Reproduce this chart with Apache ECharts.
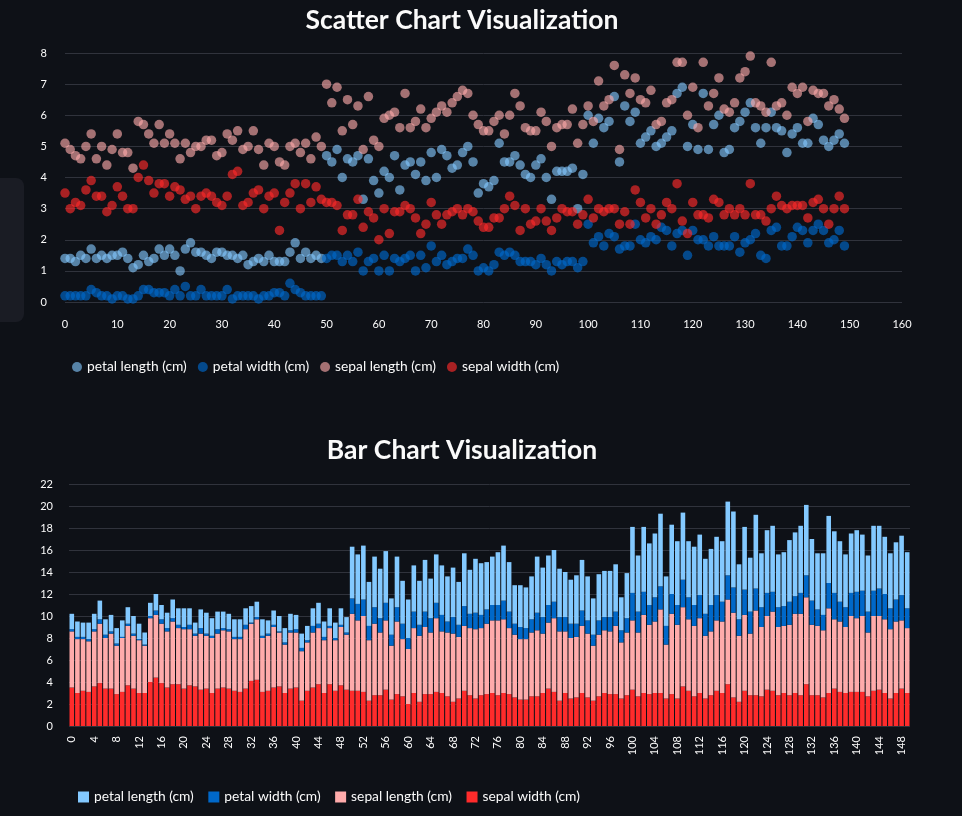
<!DOCTYPE html>
<html>
<head>
<meta charset="utf-8">
<script src="https://cdn.jsdelivr.net/npm/echarts@6/dist/echarts.min.js"></script>
<style>
html,body{margin:0;padding:0;background:#0e1117;}
#chart{width:962px;height:816px;}
#side{position:absolute;left:-10px;top:178px;width:34px;height:144px;background:#1a1c24;border-radius:8px;}
</style>
</head>
<body>
<div id="chart"></div>
<div id="side"></div>
<script>
const seriesNames = ['petal length (cm)','petal width (cm)','sepal length (cm)','sepal width (cm)'];
const sepalLength = [5.1,4.9,4.7,4.6,5.0,5.4,4.6,5.0,4.4,4.9,5.4,4.8,4.8,4.3,5.8,5.7,5.4,5.1,5.7,5.1,5.4,5.1,4.6,5.1,4.8,5.0,5.0,5.2,5.2,4.7,4.8,5.4,5.2,5.5,4.9,5.0,5.5,4.9,4.4,5.1,5.0,4.5,4.4,5.0,5.1,4.8,5.1,4.6,5.3,5.0,
7.0,6.4,6.9,5.5,6.5,5.7,6.3,4.9,6.6,5.2,5.0,5.9,6.0,6.1,5.6,6.7,5.6,5.8,6.2,5.6,5.9,6.1,6.3,6.1,6.4,6.6,6.8,6.7,6.0,5.7,5.5,5.5,5.8,6.0,5.4,6.0,6.7,6.3,5.6,5.5,5.5,6.1,5.8,5.0,5.6,5.7,5.7,6.2,5.1,5.7,
6.3,5.8,7.1,6.3,6.5,7.6,4.9,7.3,6.7,7.2,6.5,6.4,6.8,5.7,5.8,6.4,6.5,7.7,7.7,6.0,6.9,5.6,7.7,6.3,6.7,7.2,6.2,6.1,6.4,7.2,7.4,7.9,6.4,6.3,6.1,7.7,6.3,6.4,6.0,6.9,6.7,6.9,5.8,6.8,6.7,6.7,6.3,6.5,6.2,5.9];
const sepalWidth = [3.5,3.0,3.2,3.1,3.6,3.9,3.4,3.4,2.9,3.1,3.7,3.4,3.0,3.0,4.0,4.4,3.9,3.5,3.8,3.8,3.4,3.7,3.6,3.3,3.4,3.0,3.4,3.5,3.4,3.2,3.1,3.4,4.1,4.2,3.1,3.2,3.5,3.6,3.0,3.4,3.5,2.3,3.2,3.5,3.8,3.0,3.8,3.2,3.7,3.3,
3.2,3.2,3.1,2.3,2.8,2.8,3.3,2.4,2.9,2.7,2.0,3.0,2.2,2.9,2.9,3.1,3.0,2.7,2.2,2.5,3.2,2.8,2.5,2.8,2.9,3.0,2.8,3.0,2.9,2.6,2.4,2.4,2.7,2.7,3.0,3.4,3.1,2.3,3.0,2.5,2.6,3.0,2.6,2.3,2.7,3.0,2.9,2.9,2.5,2.8,
3.3,2.7,3.0,2.9,3.0,3.0,2.5,2.9,2.5,3.6,3.2,2.7,3.0,2.5,2.8,3.2,3.0,3.8,2.6,2.2,3.2,2.8,2.8,2.7,3.3,3.2,2.8,3.0,2.8,3.0,2.8,3.8,2.8,2.8,2.6,3.0,3.4,3.1,3.0,3.1,3.1,3.1,2.7,3.2,3.3,3.0,2.5,3.0,3.4,3.0];
const petalLength = [1.4,1.4,1.3,1.5,1.4,1.7,1.4,1.5,1.4,1.5,1.5,1.6,1.4,1.1,1.2,1.5,1.3,1.4,1.7,1.5,1.7,1.5,1.0,1.7,1.9,1.6,1.6,1.5,1.4,1.6,1.6,1.5,1.5,1.4,1.5,1.2,1.3,1.4,1.3,1.5,1.3,1.3,1.3,1.6,1.9,1.4,1.6,1.4,1.5,1.4,
4.7,4.5,4.9,4.0,4.6,4.5,4.7,3.3,4.6,3.9,3.5,4.2,4.0,4.7,3.6,4.4,4.5,4.1,4.5,3.9,4.8,4.0,4.9,4.7,4.3,4.4,4.8,5.0,4.5,3.5,3.8,3.7,3.9,5.1,4.5,4.5,4.7,4.4,4.1,4.0,4.4,4.6,4.0,3.3,4.2,4.2,4.2,4.3,3.0,4.1,
6.0,5.1,5.9,5.6,5.8,6.6,4.5,6.3,5.8,6.1,5.1,5.3,5.5,5.0,5.1,5.3,5.5,6.7,6.9,5.0,5.7,4.9,6.7,4.9,5.7,6.0,4.8,4.9,5.6,5.8,6.1,6.4,5.6,5.1,5.6,6.1,5.6,5.5,4.8,5.4,5.6,5.1,5.1,5.9,5.7,5.2,5.0,5.2,5.4,5.1];
const petalWidth = [0.2,0.2,0.2,0.2,0.2,0.4,0.3,0.2,0.2,0.1,0.2,0.2,0.1,0.1,0.2,0.4,0.4,0.3,0.3,0.3,0.2,0.4,0.2,0.5,0.2,0.2,0.4,0.2,0.2,0.2,0.2,0.4,0.1,0.2,0.2,0.2,0.2,0.1,0.2,0.2,0.3,0.3,0.2,0.6,0.4,0.3,0.2,0.2,0.2,0.2,
1.4,1.5,1.5,1.3,1.5,1.3,1.6,1.0,1.3,1.4,1.0,1.5,1.0,1.4,1.3,1.4,1.5,1.0,1.5,1.1,1.8,1.3,1.5,1.2,1.3,1.4,1.4,1.7,1.5,1.0,1.1,1.0,1.2,1.6,1.5,1.6,1.5,1.3,1.3,1.3,1.2,1.4,1.2,1.0,1.3,1.2,1.3,1.3,1.1,1.3,
2.5,1.9,2.1,1.8,2.2,2.1,1.7,1.8,1.8,2.5,2.0,1.9,2.1,2.0,2.4,2.3,1.8,2.2,2.3,1.5,2.3,2.0,2.0,1.8,2.1,1.8,1.8,1.8,2.1,1.6,1.9,2.0,2.2,1.5,1.4,2.3,2.4,1.8,1.8,2.1,2.4,2.3,1.9,2.3,2.5,2.3,1.9,2.0,2.3,1.8];
const scatterXTicks = [0,160,10];
const scatterYTicks = [0,8,1];
const barYTicks = [0,22,2];

const scatterColors = ['rgba(131,201,255,0.78)','rgba(0,104,201,0.82)','rgba(255,171,171,0.78)','rgba(255,43,43,0.8)'];
const barColors = ['#83c9ff','#0068c9','#ffabab','#ff2b2b'];
const idx = sepalLength.map((_, i) => i);
const valuesByName = {
  'petal length (cm)': petalLength,
  'petal width (cm)': petalWidth,
  'sepal length (cm)': sepalLength,
  'sepal width (cm)': sepalWidth
};

const FONT = 'Lato';
const TXT = '#fafafa';
const GRID = '#30333c';

const scatterSeries = seriesNames.map((n, k) => ({
  name: n, type: 'scatter', xAxisIndex: 0, yAxisIndex: 0,
  symbolSize: 9.5,
  itemStyle: { color: scatterColors[k] },
  data: valuesByName[n].map((v, i) => [i, v])
}));
// bar stacking: bottom-up sepal width, sepal length, petal width, petal length
const barOrder = [3, 2, 1, 0];
const barSeries = barOrder.map(k => ({
  name: seriesNames[k] + ' ', type: 'bar', xAxisIndex: 1, yAxisIndex: 1,
  stack: 'total', barCategoryGap: '18%',
  itemStyle: { color: barColors[k] },
  data: valuesByName[seriesNames[k]]
}));

const chart = echarts.init(document.getElementById('chart'), null, { renderer: 'canvas' });
chart.setOption({
  backgroundColor: 'transparent',
  animation: false,
  textStyle: { fontFamily: FONT },
  title: [
    { text: 'Scatter Chart Visualization', left: 457, textAlign: 'center', top: 2,
      textStyle: { color: TXT, fontSize: 26.5, fontWeight: 'bold', fontFamily: FONT } },
    { text: 'Bar Chart Visualization', left: 457, textAlign: 'center', top: 432,
      textStyle: { color: TXT, fontSize: 26.5, fontWeight: 'bold', fontFamily: FONT } }
  ],
  legend: [
    { data: seriesNames.map((n, k) => ({ name: n, itemStyle: { color: scatterColors[k] } })),
      left: 72, top: 360, padding: 0, icon: 'circle', itemWidth: 10, itemHeight: 10, itemGap: 11,
      textStyle: { color: TXT, fontSize: 13.8, fontFamily: FONT } },
    { data: seriesNames.map(n => n + ' '),
      left: 78, top: 790, padding: 0, icon: 'rect', itemWidth: 11, itemHeight: 11, itemGap: 11,
      textStyle: { color: TXT, fontSize: 13.8, fontFamily: FONT } }
  ],
  grid: [
    { left: 65, width: 837, top: 53, height: 249 },
    { left: 69, width: 841, top: 484, height: 242 }
  ],
  xAxis: [
    { type: 'value', gridIndex: 0, min: scatterXTicks[0], max: scatterXTicks[1], interval: scatterXTicks[2],
      axisLine: { show: false }, axisTick: { show: false }, splitLine: { show: false },
      axisLabel: { color: TXT, fontSize: 11, margin: 17, fontFamily: FONT } },
    { type: 'category', gridIndex: 1, data: idx.map(String),
      axisLine: { show: false }, axisTick: { show: false },
      axisLabel: { color: TXT, fontSize: 11, rotate: 90, interval: 3, margin: 10, fontFamily: FONT } }
  ],
  yAxis: [
    { type: 'value', gridIndex: 0, min: scatterYTicks[0], max: scatterYTicks[1], interval: scatterYTicks[2],
      axisLine: { show: false }, axisTick: { show: false },
      splitLine: { lineStyle: { color: GRID, width: 1 } },
      axisLabel: { color: TXT, fontSize: 11, margin: 18, fontFamily: FONT } },
    { type: 'value', gridIndex: 1, min: barYTicks[0], max: barYTicks[1], interval: barYTicks[2],
      axisLine: { show: false }, axisTick: { show: false },
      splitLine: { lineStyle: { color: GRID, width: 1 } },
      axisLabel: { color: TXT, fontSize: 11, margin: 16, fontFamily: FONT } }
  ],
  series: scatterSeries.concat(barSeries)
});
</script>
</body>
</html>
